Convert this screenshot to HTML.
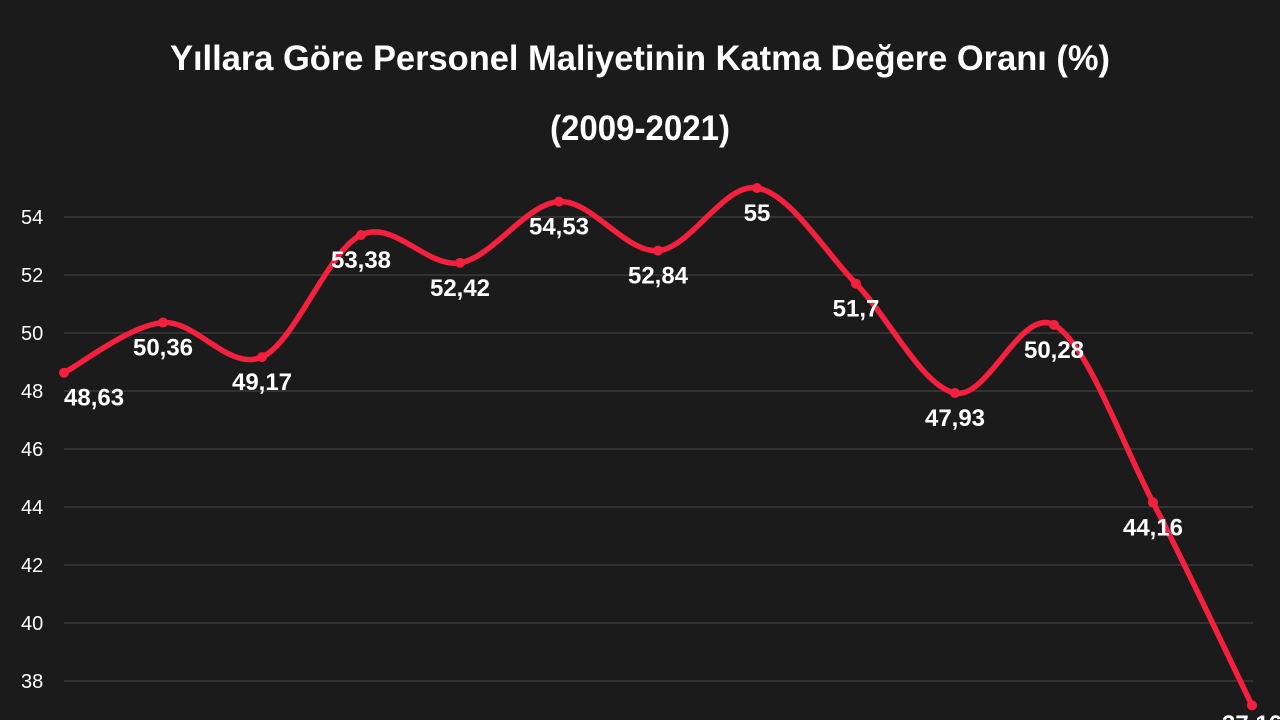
<!DOCTYPE html>
<html><head><meta charset="utf-8"><style>
html,body{margin:0;padding:0;background:#1b1b1b;}
svg{display:block;}
text{font-family:"Liberation Sans Narrow","Liberation Sans",sans-serif;fill:#fff;}
</style></head><body>
<svg id="s" width="1280" height="720" viewBox="0 0 1280 720">
<rect width="1280" height="720" fill="#1b1b1b"/>
<text x="640" y="70" text-anchor="middle" font-size="35" font-weight="bold" textLength="940" lengthAdjust="spacingAndGlyphs">Yıllara Göre Personel Maliyetinin Katma Değere Oranı (%)</text>
<text x="640" y="140" text-anchor="middle" font-size="35" font-weight="bold" textLength="180" lengthAdjust="spacingAndGlyphs">(2009-2021)</text>
<g id="grid"></g>
<path id="line" fill="none" stroke="#f5203e" stroke-width="5.5" stroke-linejoin="round" stroke-linecap="round"/>
<g id="pts"></g>
</svg>
<script>
var ns="http://www.w3.org/2000/svg";
var vals=[48.63,50.36,49.17,53.38,52.42,54.53,52.84,55,51.7,47.93,50.28,44.16,37.16];
var labs=["48,63","50,36","49,17","53,38","52,42","54,53","52,84","55","51,7","47,93","50,28","44,16","37,16"];
function Y(v){return 217+(54-v)*29;}
var g=document.getElementById("grid");
for(var t=38;t<=54;t+=2){
 var l=document.createElementNS(ns,"line");
 l.setAttribute("x1",64);l.setAttribute("x2",1253);l.setAttribute("y1",Y(t));l.setAttribute("y2",Y(t));
 l.setAttribute("stroke","#3a3a3a");l.setAttribute("stroke-width","1.5");g.appendChild(l);
 var tx=document.createElementNS(ns,"text");
 tx.setAttribute("x",21);tx.setAttribute("y",Y(t)+7);tx.setAttribute("font-size","20");tx.setAttribute("fill","#eee");
 tx.textContent=t;g.appendChild(tx);
}
var P=vals.map(function(v,i){return [64+i*99,Y(v)];});
var d="M"+P[0][0]+","+P[0][1];
for(var i=0;i<P.length-1;i++){
 var p0=P[i-1]||P[i],p1=P[i],p2=P[i+1],p3=P[i+2]||P[i+1];
 var c1=[p1[0]+(p2[0]-p0[0])/6,p1[1]+(p2[1]-p0[1])/6];
 var c2=[p2[0]-(p3[0]-p1[0])/6,p2[1]-(p3[1]-p1[1])/6];
 d+=" C"+c1+" "+c2+" "+p2;
}
document.getElementById("line").setAttribute("d",d);
var pg=document.getElementById("pts");
P.forEach(function(p,i){
 var c=document.createElementNS(ns,"circle");
 c.setAttribute("cx",p[0]);c.setAttribute("cy",p[1]);c.setAttribute("r",5);c.setAttribute("fill","#f5203e");pg.appendChild(c);
 var t=document.createElementNS(ns,"text");
 t.setAttribute("x",p[0]);t.setAttribute("y",i==12?732:p[1]+33);
 t.setAttribute("text-anchor",i==0?"start":"middle");
 t.setAttribute("font-size","24");t.setAttribute("font-weight","bold");
 t.textContent=labs[i];pg.appendChild(t);
});
</script>
</body></html>
